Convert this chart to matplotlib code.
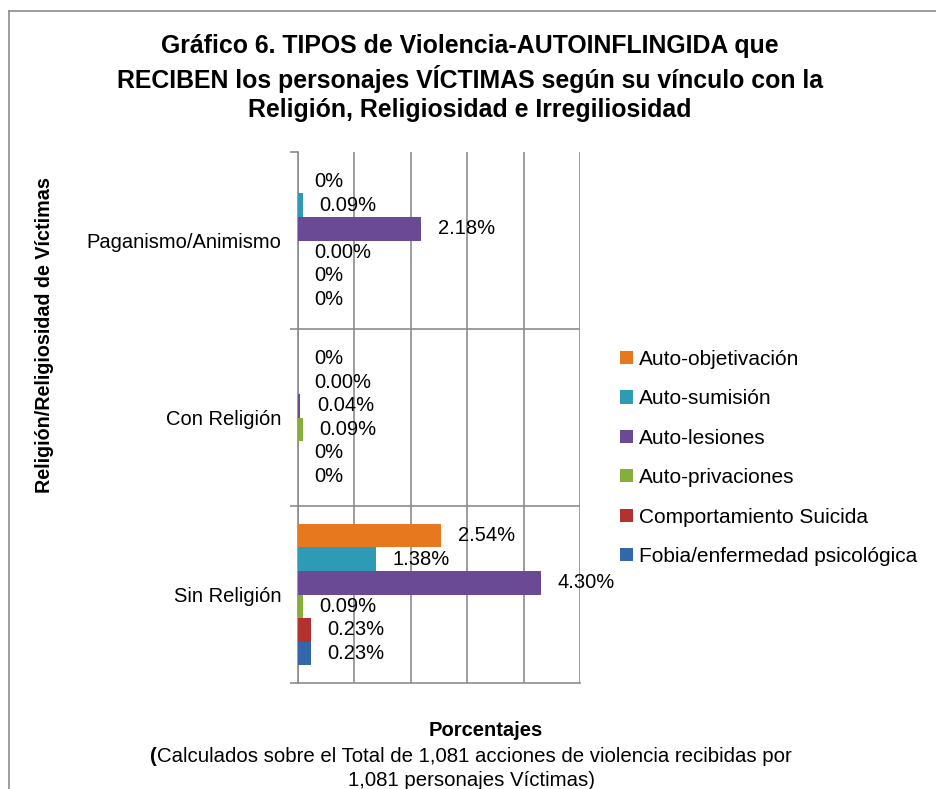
import matplotlib.pyplot as plt
import numpy as np
from matplotlib.lines import Line2D

plt.rcParams['font.family'] = ['Liberation Sans', 'DejaVu Sans']

# categories, top to bottom as in the chart
categories = ["Paganismo/Animismo", "Con Religión", "Sin Religión"]

series_names = ["Auto-objetivación", "Auto-sumisión", "Auto-lesiones",
                "Auto-privaciones", "Comportamiento Suicida",
                "Fobia/enfermedad psicológica"]

# values in % per series (Paganismo, Con Religión, Sin Religión)
auto_objetivacion = [0, 0, 2.54]
auto_sumision = [0.09, 0.00, 1.38]
auto_lesiones = [2.18, 0.04, 4.30]
auto_privaciones = [0.00, 0.09, 0.09]
comportamiento_suicida = [0, 0, 0.23]
fobia = [0, 0, 0.23]

# label text as printed on the chart
lab_objetivacion = ["0%", "0%", "2.54%"]
lab_sumision = ["0.09%", "0.00%", "1.38%"]
lab_lesiones = ["2.18%", "0.04%", "4.30%"]
lab_privaciones = ["0.00%", "0.09%", "0.09%"]
lab_suicida = ["0%", "0%", "0.23%"]
lab_fobia = ["0%", "0%", "0.23%"]

colors = ["#E8781E", "#2E9AB5", "#6A4A94", "#86AE3A", "#B3312E", "#3366AA"]

all_vals = [auto_objetivacion, auto_sumision, auto_lesiones,
            auto_privaciones, comportamiento_suicida, fobia]
all_labs = [lab_objetivacion, lab_sumision, lab_lesiones,
            lab_privaciones, lab_suicida, lab_fobia]

grid_col = "#8c8c8c"

fig = plt.figure(figsize=(9.36, 7.89), dpi=100)
ax = fig.add_axes([298 / 936, 1 - 683 / 789, 282 / 936, 531 / 789])

ypos = np.array([2, 1, 0])
n = len(series_names)
h = 0.8 / n

for j in range(n):
    yy = ypos + 0.4 - (j + 0.5) * h
    ax.barh(yy, all_vals[j], height=h, color=colors[j], zorder=3,
            label=series_names[j])
    for k in range(len(categories)):
        ax.annotate(all_labs[j][k], (all_vals[j][k], yy[k]),
                    xytext=(12, 0), textcoords='offset points',
                    ha='left', va='center', fontsize=14.5, zorder=4)

ax.set_xlim(0, 5)
ax.set_ylim(-0.5, 2.5)
ax.set_xticks(range(6))
ax.set_xticklabels([])
ax.tick_params(axis='x', length=0)
ax.grid(axis='x', color=grid_col, lw=1.2, zorder=0)

ax.set_yticks(ypos)
ax.set_yticklabels(categories, fontsize=14.5)
ax.tick_params(axis='y', which='major', length=0, pad=12)
ax.set_yticks([-0.5, 0.5, 1.5, 2.5], minor=True)
ax.tick_params(axis='y', which='minor', length=6, width=1.2, color=grid_col)
for yb in [0.5, 1.5]:
    ax.axhline(yb, color=grid_col, lw=1.2, zorder=1)

for s in ['top', 'right']:
    ax.spines[s].set_visible(False)
for s in ['left', 'bottom']:
    ax.spines[s].set_color(grid_col)
    ax.spines[s].set_linewidth(1.2)

ax.legend(loc='center left', bbox_to_anchor=(620 / 936, 1 - 458 / 789),
          bbox_transform=fig.transFigure, frameon=False, fontsize=15,
          handlelength=0.6, handleheight=0.6, handletextpad=0.3,
          labelspacing=0.98, borderpad=0, borderaxespad=0)

fig.text(470 / 936, 1 - 78 / 789,
         "Gráfico 6. TIPOS de Violencia-AUTOINFLINGIDA que\n"
         "RECIBEN los personajes VÍCTIMAS según su vínculo con la\n"
         "Religión, Religiosidad e Irregiliosidad",
         ha='center', va='center', fontsize=17.9, fontweight='bold',
         linespacing=1.3)

fig.text(45 / 936, 1 - 335 / 789, "Religión/Religiosidad de Víctimas",
         rotation=90, ha='center', va='center', fontsize=14.2,
         fontweight='bold')

fig.text(486 / 936, 1 - 730 / 789, "Porcentajes", ha='center', va='center',
         fontsize=14.5, fontweight='bold')

# second line: bold opening bracket followed by regular text
line2 = "Calculados sobre el Total de 1,081 acciones de violencia recibidas por"
renderer = fig.canvas.get_renderer()
t_par = fig.text(0, 1 - 756 / 789, "(", ha='left', va='center',
                 fontsize=14.7, fontweight='bold')
t_rest = fig.text(0, 1 - 756 / 789, line2, ha='left', va='center',
                  fontsize=14.7)
w_par = t_par.get_window_extent(renderer).width
w_rest = t_rest.get_window_extent(renderer).width
x0 = 471 - (w_par + w_rest) / 2
t_par.set_x(x0 / 936)
t_rest.set_x((x0 + w_par) / 936)

fig.text(471 / 936, 1 - 780 / 789, "1,081 personajes Víctimas)",
         ha='center', va='center', fontsize=14.7)

# outer chart frame (left and top edges visible)
fig.add_artist(Line2D([9 / 936, 9 / 936], [0, 1 - 11 / 789],
                      transform=fig.transFigure, color="#8c8c8c", lw=1.2))
fig.add_artist(Line2D([9 / 936, 1], [1 - 11 / 789, 1 - 11 / 789],
                      transform=fig.transFigure, color="#8c8c8c", lw=1.2))

fig.savefig("out.png", dpi=100)
